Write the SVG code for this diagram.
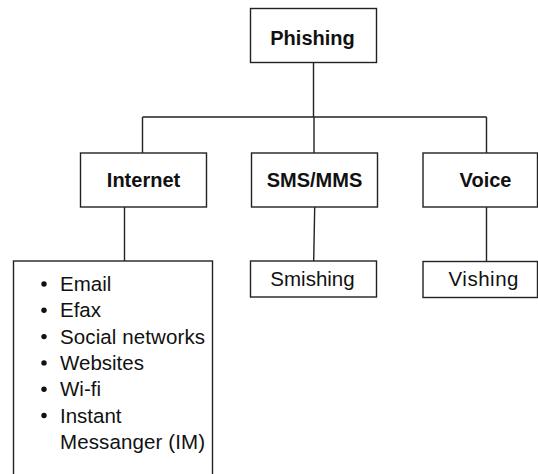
<svg xmlns="http://www.w3.org/2000/svg" width="538" height="474" viewBox="0 0 538 474">
<style>
.box{fill:#fff;stroke:#222;stroke-width:1.4}
.ln{fill:none;stroke:#222;stroke-width:1.4}
.b{font-family:"Liberation Sans",Arial,sans-serif;font-weight:bold;font-size:20px;fill:#111;text-anchor:middle}
.r{font-family:"Liberation Sans",Arial,sans-serif;font-size:20.5px;fill:#111}
.rc{text-anchor:middle}
</style>
<rect width="538" height="474" fill="#fff"/>
<g id="connectors">
<path class="ln" d="M313.5 62.5V117M142.5 117H486.5M142.5 117V153M314 117V153M486.5 117V153M124.5 207V261M314.7 207L313.7 261M486.5 207V261.5"/>
</g>
<g id="phishing"><rect class="box" x="250.5" y="8.5" width="126" height="54"/><text class="b" x="312.5" y="44.5">Phishing</text></g>
<g id="internet"><rect class="box" x="80.5" y="153" width="126" height="54"/><text class="b" x="143.5" y="187">Internet</text></g>
<g id="sms"><rect class="box" x="251.5" y="153" width="126" height="54"/><text class="b" x="314.5" y="187">SMS/MMS</text></g>
<g id="voice"><rect class="box" x="423" y="153" width="114.5" height="54"/><text class="b" x="485.5" y="187">Voice</text></g>
<g id="smishing"><rect class="box" x="250.5" y="261" width="126" height="36"/><text class="r rc" x="312.5" y="285.5">Smishing</text></g>
<g id="vishing"><rect class="box" x="423" y="261.5" width="114.5" height="36"/><text class="r rc" x="483.5" y="286" textLength="70" lengthAdjust="spacing">Vishing</text></g>
<g id="internet-list">
<rect class="box" x="13.5" y="261" width="199" height="230"/>
<g fill="#111">
<circle cx="44" cy="284" r="2.7"/>
<circle cx="44" cy="310.3" r="2.7"/>
<circle cx="44" cy="336.6" r="2.7"/>
<circle cx="44" cy="362.9" r="2.7"/>
<circle cx="44" cy="389.2" r="2.7"/>
<circle cx="44" cy="415.5" r="2.7"/>
</g>
<text class="r" x="60" y="291">Email</text>
<text class="r" x="60" y="317.3">Efax</text>
<text class="r" x="60" y="343.6" textLength="145" lengthAdjust="spacing">Social networks</text>
<text class="r" x="60" y="369.9">Websites</text>
<text class="r" x="60" y="396.2">Wi-fi</text>
<text class="r" x="60" y="422.5">Instant</text>
<text class="r" x="60" y="448.8" textLength="145" lengthAdjust="spacing">Messanger (IM)</text>
</g>
</svg>
